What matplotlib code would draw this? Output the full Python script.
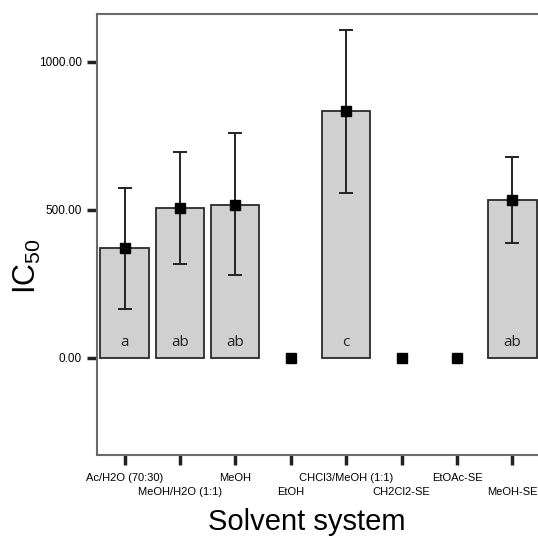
import numpy as np
import matplotlib
matplotlib.use('Agg')
import matplotlib.pyplot as plt

#%% Data: IC50 per solvent system (mean with error bar limits)
solvents = ['Ac/H2O (70:30)', 'MeOH/H2O (1:1)', 'MeOH', 'EtOH',
            'CHCl3/MeOH (1:1)', 'CH2Cl2-SE', 'EtOAc-SE', 'MeOH-SE']
ic50 = [372, 505, 516, 0, 834, 0, 0, 533]
err_hi = [572, 694, 760, 0, 1107, 0, 0, 678]
err_lo = [165, 316, 279, 0, 557, 0, 0, 386]
groups = ['a', 'ab', 'ab', '', 'c', '', '', 'ab']

plt.rcParams['font.family'] = ['Liberation Sans', 'DejaVu Sans']
plt.rcParams['mathtext.fontset'] = 'custom'
plt.rcParams['mathtext.rm'] = 'Liberation Sans'

fig = plt.figure(figsize=(5.38, 5.36), dpi=100)
ax = fig.add_axes([0.180, 0.151, 0.824, 0.823])

x = np.arange(len(solvents))
vals = np.array(ic50, dtype=float)
yerr = np.array([vals - np.array(err_lo), np.array(err_hi) - vals])

has_bar = vals > 0
ax.bar(x[has_bar], vals[has_bar], width=0.87, color='#d0d0d0',
       edgecolor='#2a2a2a', linewidth=1.3, zorder=2)

# error bars only where a bar is drawn
ax.errorbar(x[has_bar], vals[has_bar], yerr=yerr[:, has_bar], fmt='none',
            ecolor='#222222', elinewidth=1.4, capsize=5, capthick=1.4, zorder=3)
ax.plot(x, vals, 's', color='black', markersize=7.5, zorder=4, linestyle='none')

for xi, v, g in zip(x, vals, groups):
    if g:
        ax.text(xi, 50, g, ha='center', va='center', fontsize=11,
                family=['Open Sans', 'DejaVu Sans'], color='#222222', zorder=5)

ax.set_xlim(-0.5, 7.5)
ax.set_ylim(-329, 1161)
ax.set_yticks([0, 500, 1000])
ax.set_yticklabels(['0.00', '500.00', '1000.00'], fontsize=8.5)

ax.set_xticks(x)
ax.set_xticklabels(solvents, fontsize=8)

ax.tick_params(axis='both', direction='out', width=2.5, length=7, color='#222222')
ax.tick_params(axis='y', pad=4)
ax.tick_params(axis='x', pad=6)
# alternate tick labels onto two rows
for i, tick in enumerate(ax.xaxis.get_major_ticks()):
    if i % 2 == 1:
        tick.set_pad(16)

for side in ['left', 'top', 'bottom', 'right']:
    ax.spines[side].set_color('#6a6a6a')
    ax.spines[side].set_linewidth(1.5)

fig.text(27 / 538, 1 - 266 / 536, r'IC$_{\mathregular{50}}$', rotation=90,
         ha='center', va='center', fontsize=22)
fig.text(307 / 538, 1 - 522 / 536, 'Solvent system', ha='center', va='center',
         fontsize=21)

fig.savefig('out.png', dpi=100)
